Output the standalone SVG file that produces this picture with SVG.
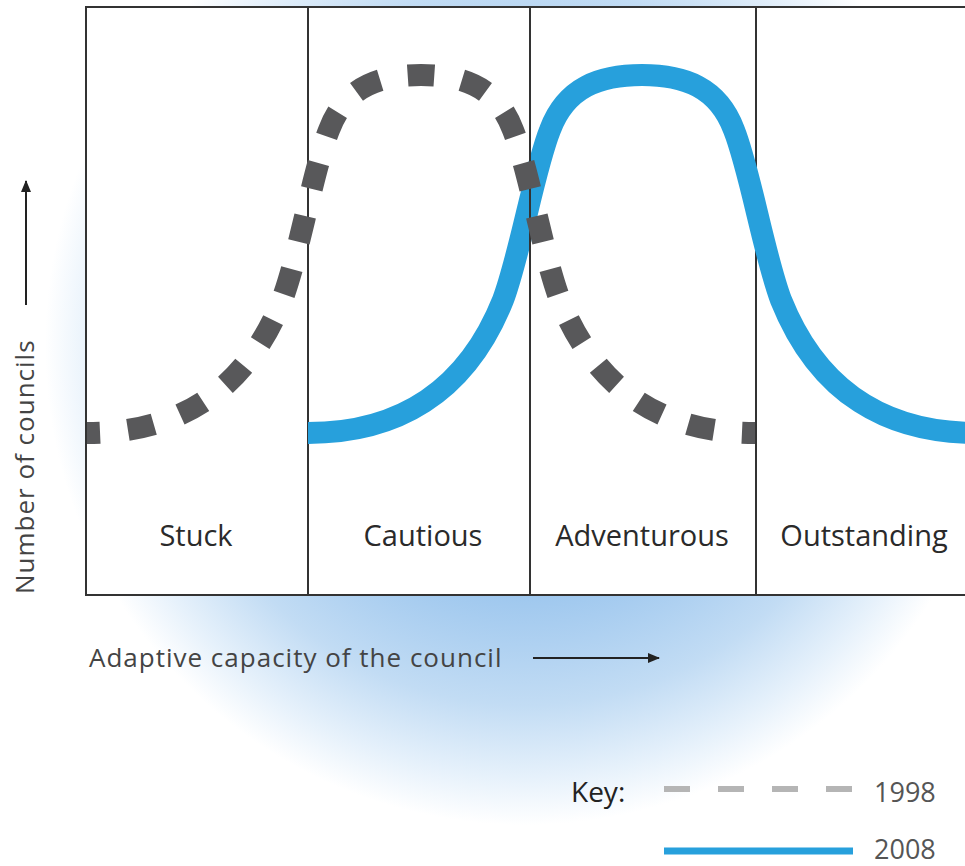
<svg xmlns="http://www.w3.org/2000/svg" width="965" height="866" viewBox="0 0 965 866">
<style>
.cat{font-family:"Open Sans","Liberation Sans",sans-serif;font-size:29px;fill:#2a2a2a;text-anchor:middle}
.axis{font-family:"Open Sans","Liberation Sans",sans-serif;font-size:26px;fill:#444;letter-spacing:1px}
.key{font-family:"Open Sans","Liberation Sans",sans-serif;font-size:28px;fill:#222}
.yr{font-family:"Open Sans","Liberation Sans",sans-serif;font-size:27px;fill:#555}
.frame{fill:#ffffff;stroke:#333;stroke-width:2}
.div{stroke:#333;stroke-width:2}
.s2008{fill:none;stroke:#27a0dc;stroke-width:22}
.s1998{fill:none;stroke:#58585a;stroke-width:22;stroke-dasharray:26.5 28;stroke-dashoffset:13.25}
.arr{stroke:#222;stroke-width:2;fill:none}
</style>
<defs>
<radialGradient id="glow" gradientUnits="userSpaceOnUse" cx="525" cy="345" r="480">
<stop offset="0" stop-color="#6fa8e2"/>
<stop offset="0.5" stop-color="#9cc6ee"/>
<stop offset="0.75" stop-color="#c2dcf4"/>
<stop offset="0.9" stop-color="#e6f1fb"/>
<stop offset="1" stop-color="#ffffff"/>
</radialGradient>
<marker id="ah" viewBox="0 0 12 10" refX="11" refY="5" markerWidth="12" markerHeight="10" markerUnits="userSpaceOnUse" orient="auto">
<path d="M0,0 L12,5 L0,10 Z" fill="#222"/>
</marker>
<path id="bell" d="M308,433 C395,433 465,395 503,300 C520,255 534,170 550,130 C566,87 600,75 642,75 C684,75 718,87 734,130 C750,170 764,255 781,300 C819,395 889,433 976,433"/>
<path id="halfL" d="M642,75 C600,75 566,87 550,130 C534,170 520,255 503,300 C465,395 395,433 308,433"/>
<path id="halfR" d="M642,75 C684,75 718,87 734,130 C750,170 764,255 781,300 C819,395 889,433 976,433"/>
<clipPath id="clipL"><rect x="86" y="0" width="670" height="600"/></clipPath>
<clipPath id="clipR"><rect x="308" y="0" width="660" height="600"/></clipPath>
</defs>
<rect x="0" y="0" width="965" height="866" fill="#ffffff"/>
<rect x="0" y="0" width="965" height="866" fill="url(#glow)"/>
<g id="chart-box">
<rect x="86" y="7" width="884" height="588" class="frame"/>
</g>
<g id="panel-stuck"><text class="cat" x="196" y="546">Stuck</text></g>
<g id="panel-cautious"><line class="div" x1="308" y1="7" x2="308" y2="595"/><text class="cat" x="423" y="546">Cautious</text></g>
<g id="panel-adventurous"><line class="div" x1="530" y1="7" x2="530" y2="595"/><text class="cat" x="642" y="546">Adventurous</text></g>
<g id="panel-outstanding"><line class="div" x1="756" y1="7" x2="756" y2="595"/><text class="cat" x="864" y="546">Outstanding</text></g>
<g id="series">
<use href="#bell" class="s2008" clip-path="url(#clipR)"/>
<line class="div" x1="530" y1="7" x2="530" y2="595"/>
<g clip-path="url(#clipL)">
<g transform="translate(-221,0)">
<use href="#halfL" class="s1998"/>
<use href="#halfR" class="s1998"/>
</g>
</g>
</g>
<g id="connectors">
<line class="arr" x1="26" y1="305" x2="26" y2="181" marker-end="url(#ah)"/>
<line class="arr" x1="533" y1="658" x2="659" y2="658" marker-end="url(#ah)"/>
</g>
<g id="y-label"><text class="axis" transform="translate(34,594) rotate(-90)">Number of councils</text></g>
<g id="x-label"><text class="axis" x="89" y="667">Adaptive capacity of the council</text></g>
<g id="legend">
<text class="key" x="571" y="802">Key:</text>
<line x1="664" y1="789" x2="853" y2="789" stroke="#b5b5b5" stroke-width="6" stroke-dasharray="26 28"/>
<text class="yr" x="874" y="802">1998</text>
<line x1="664" y1="851" x2="853" y2="851" stroke="#27a0dc" stroke-width="7"/>
<text class="yr" x="874" y="859">2008</text>
</g>
</svg>
